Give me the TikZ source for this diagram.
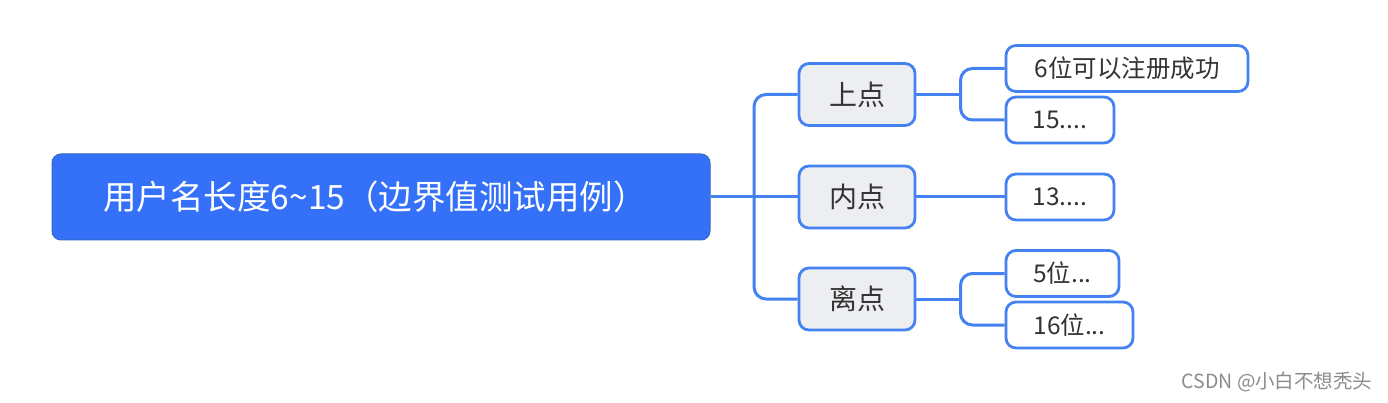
\documentclass[tikz,border=0pt]{standalone}
\usepackage{fontspec}
\setmainfont{Noto Sans CJK SC}
\usetikzlibrary{calc}
\definecolor{rootblue}{HTML}{3471F8}
\definecolor{lineblue}{HTML}{4482F2}
\definecolor{midfill}{HTML}{ECEEF1}
\definecolor{txt}{HTML}{333333}
\tikzset{
  conn/.style={draw=lineblue, line width=3pt, rounded corners=12pt},
  rootbox/.style={draw=lineblue!80!black, line width=1pt, fill=rootblue, rounded corners=9pt,
    minimum width=658pt, minimum height=86pt, text=white, font=\fontsize{33.5}{36}\selectfont, inner sep=0pt},
  midbox/.style={draw=lineblue, line width=2.8pt, fill=midfill, rounded corners=10pt,
    minimum width=116pt, minimum height=62pt, text=txt, font=\fontsize{28}{32}\selectfont, inner sep=0pt},
  leafbox/.style={draw=lineblue, line width=2.8pt, fill=white, rounded corners=10pt,
    minimum height=46pt, text=txt, font=\fontsize{24.5}{28}\selectfont, inner sep=0pt},
}
\begin{document}
\begin{tikzpicture}[x=1pt,y=-1pt]
\useasboundingbox[fill=white] (0,0) rectangle (1388,403);
\node[rootbox] (root) at (381,197) {\hspace*{-12pt}用户名长度6\char`\~15（边界值测试用例）};
\node[midbox] (m1) at (857,94.5) {上点};
\node[midbox] (m2) at (857,197) {内点};
\node[midbox] (m3) at (857,299) {离点};
\node[leafbox, minimum width=242pt] (l1) at (1127,68.5) {6位可以注册成功};
\node[leafbox, minimum width=108pt] (l2) at (1060,120) {15....};
\node[leafbox, minimum width=108pt] (l3) at (1060,197) {13....};
\node[leafbox, minimum width=113pt] (l4) at (1062.5,273.5) {5位...};
\node[leafbox, minimum width=127pt] (l5) at (1069.5,325) {16位...};
\node[text=black!45, font=\fontsize{19.5}{22}\selectfont, anchor=east] (wm) at (1376,382) {CSDN @小白不想秃头};
% connectors
\coordinate (t) at ($(root.east)!0.5!(m2.west)$);
\coordinate (b1) at ($(m1.east)!0.5!(l1.west |- m1.east)$);
\coordinate (b3) at ($(m3.east)!0.5!(l4.west |- m3.east)$);
\draw[conn] (root.east) -- (m2.west);
\draw[conn] (m1.west) -| (t) |- (m3.west);
\draw[conn] (m1.east) -- (b1);
\draw[conn] (l1.west) -| (b1) |- (l2.west);
\draw[conn] (m2.east) -- (l3.west);
\draw[conn] (m3.east) -- (b3);
\draw[conn] (l4.west) -| (b3) |- (l5.west);
\end{tikzpicture}
\end{document}
